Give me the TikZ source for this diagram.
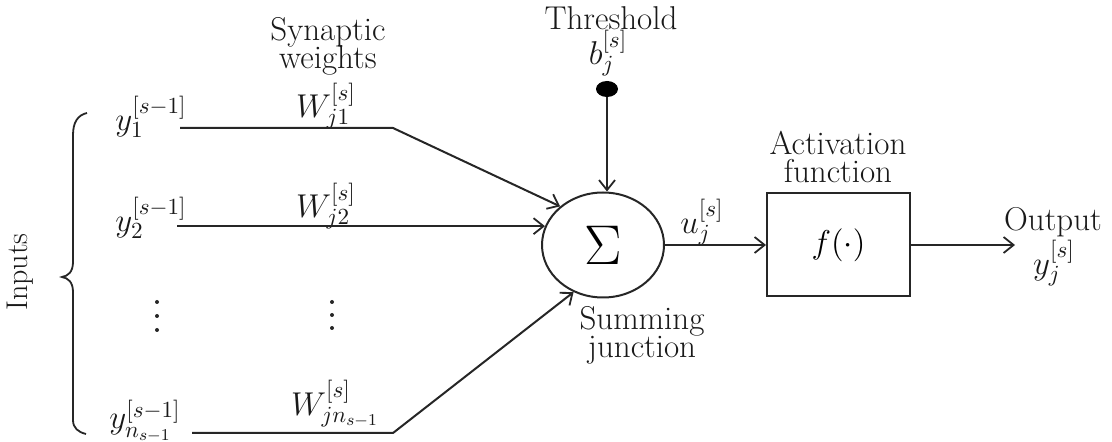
\RequirePackage{fix-cm}
\documentclass[tikz,border=0pt]{standalone}
\usetikzlibrary{arrows.meta,shapes.geometric}
\newcommand{\tightlines}{\lineskiplimit-20pt\relax\lineskip0pt\relax}
\begin{document}
\begin{tikzpicture}[x=0.5pt,y=-0.5pt,
  lbl/.style={font=\fontsize{16.5}{14}\selectfont\tightlines, inner sep=0pt, align=center, text=black!90},
  conn/.style={line width=1pt, draw=black!85},
  arr/.style={conn, -{Straight Barb[length=5pt,width=8pt,line width=0.9pt]}},
  summer/.style={ellipse, draw=black!85, line width=1pt, minimum width=61pt, minimum height=52.5pt, inner sep=0pt, font=\fontsize{28}{30}\selectfont},
  actbox/.style={rectangle, draw=black!85, line width=1pt, minimum width=71.5pt, minimum height=51.5pt, inner sep=0pt, font=\fontsize{16.5}{17}\selectfont},
  dotnode/.style={ellipse, fill=black, minimum width=11pt, minimum height=8pt, inner sep=0pt},
  vdot/.style={circle, fill=black!85, minimum size=2pt, inner sep=0pt}]
\useasboundingbox (0,0) rectangle (1112,442);

% main nodes
\node[summer] (sum) at (603,245) {$\Sigma$};
\node[actbox] (fbox) at (838.5,245) {$f(\cdot)$};
\node[dotnode] (thr) at (607,89) {};

% labels
\node[lbl] (syn) at (328,46) {Synaptic\\weights};
\node[lbl] (w1) at (326,106) {$W_{j1}^{[s]}$};
\node[lbl] (w2) at (326,206) {$W_{j2}^{[s]}$};
\node[lbl] (wn) at (335,404) {$W_{jn_{s-1}}^{[s]}$};
\node[lbl] (y1) at (151,117) {$y_1^{[s-1]}$};
\node[lbl] (y2) at (151,218) {$y_2^{[s-1]}$};
\node[lbl] (yn) at (145,421) {$y_{n_{s-1}}^{[s-1]}$};
\node[lbl] (thrtxt) at (611,18) {Threshold};
\node[lbl] (bias) at (608,53) {$b_j^{[s]}$};
\node[lbl] (u) at (702,222) {$u_j^{[s]}$};
\node[lbl] (sumtxt) at (642,335) {Summing\\junction};
\node[lbl] (act) at (838,157) {Activation\\function};
\node[lbl] (outtxt) at (1053,222) {Output};
\node[lbl] (yj) at (1054,263) {$y_j^{[s]}$};
\node[lbl, rotate=90, font=\fontsize{15}{15}\selectfont] (inp) at (20,272) {Inputs};

% vertical ellipsis dots
\node[vdot] (d1a) at (157,302) {};
\node[vdot] (d1b) at (157,316) {};
\node[vdot] (d1c) at (157,330) {};
\node[vdot] (d2a) at (332,302) {};
\node[vdot] (d2b) at (332,315) {};
\node[vdot] (d2c) at (332,328) {};

% brace
\draw[conn, line width=0.9pt] (87,113) .. controls (78,115) and (73,122) .. (73,135) -- (73,262)
  .. controls (73,272) and (68,276) .. (62,277) .. controls (68,278) and (73,282) .. (73,292)
  -- (73,420) .. controls (73,428) and (78,432) .. (86,434);

% connectors
\coordinate (a1) at (180,128);
\coordinate (k1) at (393,128);
\draw[arr] (a1) -- (k1) -- (sum.138);
\coordinate (a2) at (177,0 |- sum.162);
\draw[arr] (a2) -- (sum.162);
\coordinate (an) at (192,433);
\coordinate (kn) at (393,433);
\draw[arr] (an) -- (kn) -- (sum.238);
\draw[arr] (thr) -- (thr |- sum.north);
\draw[arr] (sum) -- (fbox);
\coordinate (o) at (1015,245);
\draw[arr] (fbox.east) -- (o);
\end{tikzpicture}
\end{document}
